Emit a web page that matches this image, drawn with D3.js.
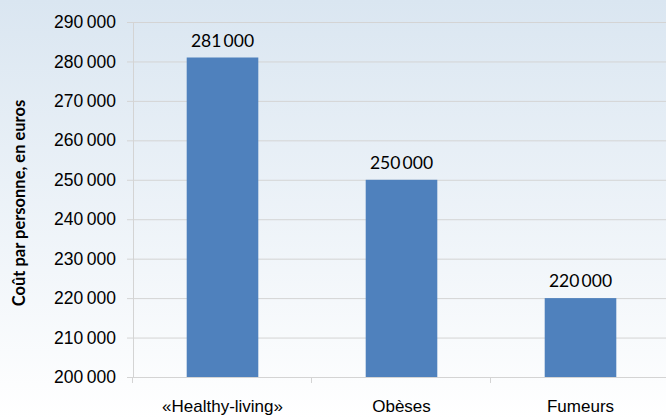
<!DOCTYPE html>
<html>
<head>
<meta charset="utf-8">
<script src="https://cdn.jsdelivr.net/npm/d3@7"></script>
<style>
  html, body { margin: 0; padding: 0; overflow: hidden; }
  svg { display: block; font-family: Lato, "Open Sans", sans-serif; }
</style>
</head>
<body>
<svg width="666" height="419"></svg>
<script>
// categories and values (cost per person, euros)
const categories = ["«Healthy-living»", "Obèses", "Fumeurs"];
const values = [281000, 250000, 220000];
const yTicks = [200000, 210000, 220000, 230000, 240000, 250000, 260000, 270000, 280000, 290000];
const yTitle = "Coût par personne, en euros";

const width = 666, height = 419;
const margin = { top: 22, right: -4, bottom: 42, left: 133 };
const innerWidth = width - margin.left - margin.right;
const innerHeight = height - margin.top - margin.bottom;

// groups of three with a narrow space, like "290 000"
const fmt = v => d3.format(",")(v).replace(/,/g, "\u2009");

const svg = d3.select("svg");

// background gradient
const defs = svg.append("defs");
const grad = defs.append("linearGradient")
    .attr("id", "bg").attr("x1", 0).attr("y1", 0).attr("x2", 0).attr("y2", 1);
grad.append("stop").attr("offset", "0%").attr("stop-color", "#dae6f1");
grad.append("stop").attr("offset", "100%").attr("stop-color", "#ffffff");
svg.append("rect").attr("width", width).attr("height", height).attr("fill", "url(#bg)");

const x = d3.scaleBand()
    .domain(categories)
    .range([0, innerWidth])
    .paddingInner(0.6)
    .paddingOuter(0.3);

const y = d3.scaleLinear()
    .domain([200000, 290000])
    .range([innerHeight, 0]);

const g = svg.append("g")
    .attr("transform", `translate(${margin.left}, ${margin.top})`);

// gridlines + y labels
const yAxis = g.append("g")
    .call(d3.axisLeft(y).tickValues(yTicks).tickFormat(fmt).tickSize(6).tickPadding(11));
yAxis.select(".domain").attr("stroke", "#d4d4d4");
yAxis.selectAll(".tick line").attr("stroke", "#d4d4d4")
    .attr("x2", innerWidth).attr("x1", -6);
yAxis.selectAll(".tick text")
    .attr("font-size", 17.5)
    .attr("fill", "#000");

// x axis
const xAxis = g.append("g")
    .attr("transform", `translate(0, ${innerHeight})`)
    .call(d3.axisBottom(x).tickSize(0).tickPadding(23));
xAxis.select(".domain").attr("stroke", "#d4d4d4");
xAxis.selectAll(".tick text").attr("font-size", 17).attr("fill", "#000");

// category separator ticks
const step = x.step();
g.append("g").selectAll("line")
    .data(d3.range(categories.length + 1))
    .join("line")
    .attr("x1", i => i * step - 0.5)
    .attr("x2", i => i * step - 0.5)
    .attr("y1", innerHeight)
    .attr("y2", innerHeight + 6)
    .attr("stroke", "#d4d4d4");

// bars
g.selectAll(".bar")
    .data(values)
    .join("rect")
    .attr("class", "bar")
    .attr("x", (d, i) => x(categories[i]))
    .attr("y", d => y(d))
    .attr("width", x.bandwidth())
    .attr("height", d => innerHeight - y(d))
    .attr("fill", "#4f81bd");

// value labels
g.selectAll(".val")
    .data(values)
    .join("text")
    .attr("class", "val")
    .attr("x", (d, i) => x(categories[i]) + x.bandwidth() / 2)
    .attr("y", d => y(d) - 11)
    .attr("text-anchor", "middle")
    .attr("font-size", 17.5)
    .text(fmt);

// y title
svg.append("text")
    .attr("transform", `translate(25, 203) rotate(-90)`)
    .attr("text-anchor", "middle")
    .attr("font-size", 16.5)
    .attr("font-weight", "bold")
    .text(yTitle);
</script>
</body>
</html>
